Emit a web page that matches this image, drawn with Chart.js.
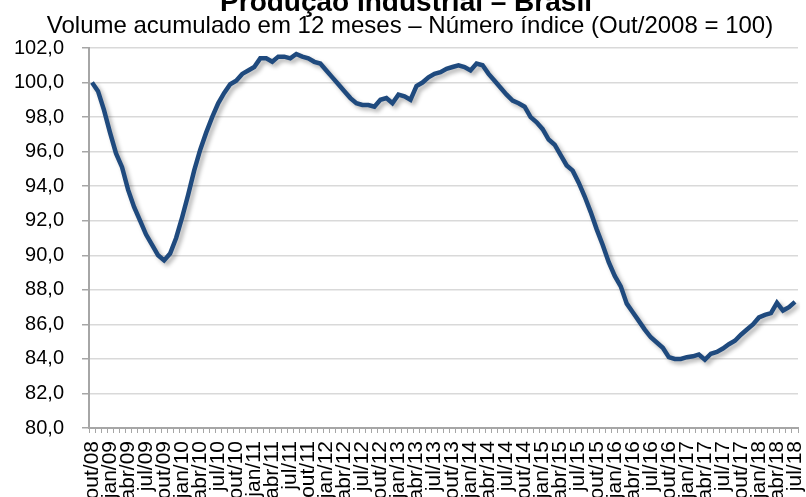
<!DOCTYPE html>
<html>
<head>
<meta charset="utf-8">
<script src="https://cdn.jsdelivr.net/npm/chart.js@4"></script>
<style>
  html, body { margin: 0; padding: 0; background: #fff; overflow: hidden; }
  #box { width: 806px; height: 497px; position: relative; }
</style>
</head>
<body>
<div id="box"><canvas id="grafico"></canvas></div>
<script>
// meses (out/2008 a jul/2018)
const rotulos = [
    'out/08', 'nov/08', 'dez/08',
    'jan/09', 'fev/09', 'mar/09', 'abr/09', 'mai/09', 'jun/09', 'jul/09', 'ago/09', 'set/09', 'out/09', 'nov/09', 'dez/09',
    'jan/10', 'fev/10', 'mar/10', 'abr/10', 'mai/10', 'jun/10', 'jul/10', 'ago/10', 'set/10', 'out/10', 'nov/10', 'dez/10',
    'jan/11', 'fev/11', 'mar/11', 'abr/11', 'mai/11', 'jun/11', 'jul/11', 'ago/11', 'set/11', 'out/11', 'nov/11', 'dez/11',
    'jan/12', 'fev/12', 'mar/12', 'abr/12', 'mai/12', 'jun/12', 'jul/12', 'ago/12', 'set/12', 'out/12', 'nov/12', 'dez/12',
    'jan/13', 'fev/13', 'mar/13', 'abr/13', 'mai/13', 'jun/13', 'jul/13', 'ago/13', 'set/13', 'out/13', 'nov/13', 'dez/13',
    'jan/14', 'fev/14', 'mar/14', 'abr/14', 'mai/14', 'jun/14', 'jul/14', 'ago/14', 'set/14', 'out/14', 'nov/14', 'dez/14',
    'jan/15', 'fev/15', 'mar/15', 'abr/15', 'mai/15', 'jun/15', 'jul/15', 'ago/15', 'set/15', 'out/15', 'nov/15', 'dez/15',
    'jan/16', 'fev/16', 'mar/16', 'abr/16', 'mai/16', 'jun/16', 'jul/16', 'ago/16', 'set/16', 'out/16', 'nov/16', 'dez/16',
    'jan/17', 'fev/17', 'mar/17', 'abr/17', 'mai/17', 'jun/17', 'jul/17', 'ago/17', 'set/17', 'out/17', 'nov/17', 'dez/17',
    'jan/18', 'fev/18', 'mar/18', 'abr/18', 'mai/18', 'jun/18', 'jul/18'
];

// número índice, volume acumulado em 12 meses
const indice = [
    100.0, 99.5, 98.4,
    97.1, 95.9, 95.1, 93.8, 92.8, 92.0, 91.2, 90.6, 90.0, 89.7, 90.1, 91.0,
    92.2, 93.5, 94.9, 96.1, 97.1, 98.0, 98.8, 99.4, 99.9, 100.1, 100.5, 100.7,
    100.9, 101.4, 101.4, 101.2, 101.5, 101.5, 101.4, 101.65, 101.5, 101.4, 101.2, 101.1,
    100.7, 100.3, 99.9, 99.5, 99.1, 98.8, 98.7, 98.7, 98.6, 99.0, 99.1, 98.8,
    99.3, 99.2, 99.0, 99.8, 100.0, 100.3, 100.5, 100.6, 100.8, 100.9, 101.0, 100.9,
    100.7, 101.1, 101.0, 100.5, 100.1, 99.7, 99.3, 98.95, 98.8, 98.6, 98.0, 97.7,
    97.3, 96.7, 96.4, 95.8, 95.2, 94.9, 94.2, 93.4, 92.5, 91.5, 90.6, 89.6,
    88.8, 88.2, 87.2, 86.7, 86.2, 85.7, 85.25, 84.95, 84.65, 84.1, 84.0, 84.0,
    84.1, 84.15, 84.25, 83.95, 84.3, 84.4, 84.6, 84.85, 85.05, 85.4, 85.7, 86.0,
    86.4, 86.55, 86.65, 87.25, 86.8, 87.0, 87.3
];

const titulo = 'Produção Industrial – Brasil';
const subtitulo = 'Volume acumulado em 12 meses – Número índice (Out/2008 = 100)';

const eixoY = { min: 80, max: 102, passo: 2 };

// sombra da linha
const sombra = {
    id: 'sombra',
    beforeDatasetDraw(chart) {
        const ctx = chart.ctx;
        ctx.save();
        ctx.shadowColor = 'rgba(0, 0, 0, 0.3)';
        ctx.shadowBlur = 4;
        ctx.shadowOffsetX = 3;
        ctx.shadowOffsetY = 3;
    },
    afterDatasetDraw(chart) {
        chart.ctx.restore();
    }
};

// títulos
const titulos = {
    id: 'titulos',
    afterDraw(chart) {
        const ctx = chart.ctx;
        ctx.save();
        ctx.fillStyle = '#000';
        ctx.textAlign = 'center';
        ctx.textBaseline = 'alphabetic';
        ctx.font = 'bold 28px "Liberation Sans", Arial, sans-serif';
        ctx.fillText(titulo, 406, 11);
        ctx.font = '24px "Liberation Sans", Arial, sans-serif';
        ctx.fillText(subtitulo, 410, 33);
        ctx.restore();
    }
};

const ctx = document.getElementById('grafico').getContext('2d');

new Chart(ctx, {
    type: 'line',
    data: {
        labels: rotulos,
        datasets: [{
            data: indice,
            borderColor: '#1F4A7E',
            borderWidth: 4.5,
            pointRadius: 0,
            tension: 0,
            fill: false
        }]
    },
    options: {
        responsive: true,
        maintainAspectRatio: false,
        animation: false,
        layout: { padding: { top: 48, right: 8, left: 0, bottom: 0 } },
        plugins: {
            legend: { display: false },
            tooltip: { enabled: false }
        },
        scales: {
            x: {
                offset: true,
                grid: {
                    offset: true,
                    drawOnChartArea: false,
                    tickLength: 5,
                    color: '#a6a6a6'
                },
                border: { color: '#a6a6a6', width: 2 },
                ticks: {
                    autoSkip: false,
                    maxRotation: 90,
                    minRotation: 90,
                    padding: 8,
                    color: '#000',
                    font: { family: '"Liberation Sans", Arial, sans-serif', size: 21 },
                    callback: function (val, idx) {
                        return idx % 3 === 0 ? this.getLabelForValue(val) : '';
                    }
                },
                afterFit: (scale) => {
                    scale.height = 69;
                    scale.paddingLeft = 0;
                    scale.paddingRight = 0;
                }
            },
            y: {
                min: eixoY.min,
                max: eixoY.max,
                grid: {
                    color: '#d9d9d9',
                    lineWidth: 1.5,
                    tickColor: '#a6a6a6',
                    tickLength: 7
                },
                border: { color: '#a6a6a6', width: 2 },
                ticks: {
                    stepSize: eixoY.passo,
                    padding: 18,
                    color: '#000',
                    font: { family: '"Liberation Sans", Arial, sans-serif', size: 20 },
                    callback: (v) => v.toFixed(1).replace('.', ',')
                },
                afterFit: (scale) => { scale.width = 89; }
            }
        }
    },
    plugins: [sombra, titulos]
});
</script>
</body>
</html>
